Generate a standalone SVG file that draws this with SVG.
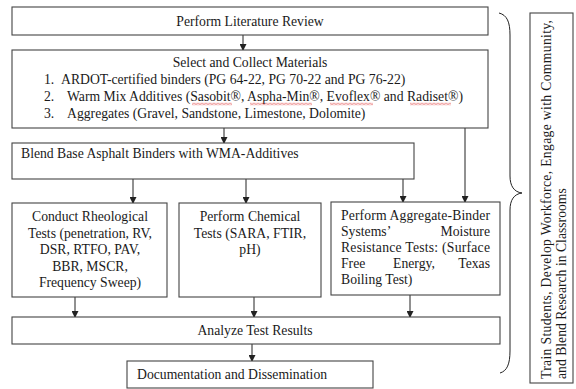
<svg xmlns="http://www.w3.org/2000/svg" width="576" height="389" viewBox="0 0 576 389">
<defs>
<marker id="ah" markerWidth="7" markerHeight="7" refX="6" refY="3.5" orient="auto" markerUnits="userSpaceOnUse">
<path d="M0,0 L7,3.5 L0,7 Z" fill="#222"/>
</marker>
<pattern id="wv" width="4" height="3" patternUnits="userSpaceOnUse" x="0" y="102.5">
<path d="M0,2.2 L2,0.6 L4,2.2" stroke="#d33" stroke-width="0.8" fill="none"/>
</pattern>
<style>
.box{fill:#fff;stroke:#444;stroke-width:1.1}
.t{font-family:"Liberation Serif","Times New Roman",serif;font-size:13.7px;fill:#1a1a1a}
.c{text-anchor:middle}
.e{text-anchor:end}
.con{stroke:#222;stroke-width:1;fill:none}
.wv{fill:url(#wv)}
</style>
</defs>
<rect width="576" height="389" fill="#fff"/>

<g id="connectors">
<line class="con" x1="243" y1="35" x2="243" y2="50" marker-end="url(#ah)"/>
<line class="con" x1="224" y1="128" x2="224" y2="143" marker-end="url(#ah)"/>
<line class="con" x1="465" y1="128" x2="465" y2="202" marker-end="url(#ah)"/>
<line class="con" x1="133" y1="179" x2="133" y2="203" marker-end="url(#ah)"/>
<line class="con" x1="246" y1="179" x2="246" y2="203" marker-end="url(#ah)"/>
<line class="con" x1="403" y1="179" x2="403" y2="202" marker-end="url(#ah)"/>
<line class="con" x1="75" y1="297" x2="75" y2="317" marker-end="url(#ah)"/>
<line class="con" x1="254" y1="297" x2="254" y2="317" marker-end="url(#ah)"/>
<line class="con" x1="410" y1="295" x2="410" y2="317" marker-end="url(#ah)"/>
<line class="con" x1="252" y1="344" x2="252" y2="361" marker-end="url(#ah)"/>
</g>

<g id="lit">
<rect class="box" x="12" y="7" width="476" height="28"/>
<text class="t c" x="250" y="26">Perform Literature Review</text>
</g>

<g id="select">
<rect class="box" x="12" y="50" width="476" height="78"/>
<text class="t c" x="250" y="67">Select and Collect Materials</text>
<text class="t" x="44" y="84">1.</text>
<text class="t" x="61" y="84">ARDOT-certified binders (PG 64-22, PG 70-22 and PG 76-22)</text>
<text class="t" x="44" y="101">2.</text>
<text class="t" x="67" y="101">Warm Mix Additives (Sasobit®, Aspha-Min®, Evoflex® and Radiset®)</text>
<rect class="wv" x="192" y="102.5" width="40" height="3"/>
<rect class="wv" x="250" y="102.5" width="62" height="3"/>
<rect class="wv" x="330" y="102.5" width="43" height="3"/>
<rect class="wv" x="410" y="102.5" width="41" height="3"/>
<text class="t" x="44" y="118">3.</text>
<text class="t" x="67" y="118">Aggregates (Gravel, Sandstone, Limestone, Dolomite)</text>
</g>

<g id="blend">
<rect class="box" x="12" y="143" width="402" height="36"/>
<text class="t" x="21" y="158">Blend Base Asphalt Binders with WMA-Additives</text>
</g>

<g id="rheo">
<rect class="box" x="12" y="203" width="155" height="94"/>
<text class="t c" x="90" y="221">Conduct Rheological</text>
<text class="t c" x="90" y="237.5">Tests (penetration, RV,</text>
<text class="t c" x="90" y="254">DSR, RTFO, PAV,</text>
<text class="t c" x="90" y="270.5">BBR, MSCR,</text>
<text class="t c" x="90" y="287">Frequency Sweep)</text>
</g>

<g id="chem">
<rect class="box" x="179" y="203" width="142" height="94"/>
<text class="t c" x="250" y="221">Perform Chemical</text>
<text class="t c" x="250" y="237.5">Tests (SARA, FTIR,</text>
<text class="t c" x="250" y="254">pH)</text>
</g>

<g id="agg">
<rect class="box" x="331" y="202" width="169" height="93"/>
<text class="t" x="341" y="220" textLength="149" lengthAdjust="spacing">Perform Aggregate-Binder</text>
<text class="t" x="341" y="236">Systems’</text>
<text class="t e" x="490" y="236">Moisture</text>
<text class="t" x="341" y="252" textLength="149" lengthAdjust="spacing">Resistance Tests: (Surface</text>
<text class="t" x="341" y="268">Free</text>
<text class="t c" x="414" y="268">Energy,</text>
<text class="t e" x="490" y="268">Texas</text>
<text class="t" x="341" y="284">Boiling Test)</text>
</g>

<g id="analyze">
<rect class="box" x="12" y="317" width="488" height="27"/>
<text class="t c" x="255" y="335">Analyze Test Results</text>
</g>

<g id="doc">
<rect class="box" x="127" y="361" width="246" height="27"/>
<text class="t" x="137" y="379">Documentation and Dissemination</text>
</g>

<g id="brace">
<path class="con" stroke="#555" d="M499,13 C507,15 510,22 510,35 L510,176 C510,186 514,192 522,193 C514,194 510,200 510,210 L510,351 C510,364 507,371 500,373"/>
</g>

<g id="outreach">
<rect class="box" x="530" y="13" width="43" height="370"/>
<text class="t" transform="translate(551,379) rotate(-90)" x="0" y="0" textLength="359" lengthAdjust="spacing">Train Students, Develop Workforce, Engage with Community,</text>
<text class="t" transform="translate(566,379) rotate(-90)" x="0" y="0">and Blend Research in Classrooms</text>
</g>
</svg>
